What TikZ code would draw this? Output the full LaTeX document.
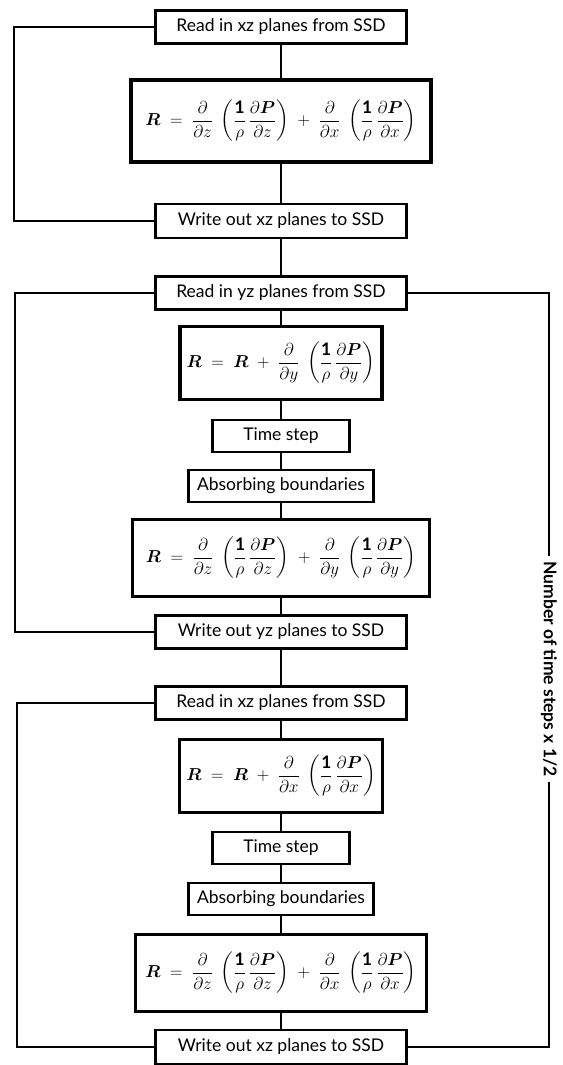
\documentclass[tikz,border=0pt]{standalone}
\usepackage{amsmath}
\usepackage{fontspec}
\setmainfont{Lato}
\usetikzlibrary{positioning}
\tikzset{
  box/.style={draw, line width=2.5pt, inner sep=0pt, align=center,
    font=\fontsize{17.5}{20}\selectfont},
  iobox/.style={box, minimum width=251pt, minimum height=33pt},
  stepbox/.style={box, minimum width=137pt, minimum height=32pt},
  absbox/.style={box, minimum width=185pt, minimum height=32pt},
  eqbox/.style={draw, line width=3.5pt, inner sep=0pt,
    font=\fontsize{17.28}{20}\selectfont},
  link/.style={line width=1.5pt},
}
\newcommand{\pd}[1]{\dfrac{\partial}{\partial #1}}
\newcommand{\brk}[1]{\left(\dfrac{\mathbf{1}}{\rho}\,\dfrac{\partial \boldsymbol{P}}{\partial #1}\right)}

\begin{document}
\begin{tikzpicture}[x=1pt, y=-1pt]
  \useasboundingbox (0,0) rectangle (562,1065);
  % xz pass
  \node[iobox] (readA) at (281,27) {Read in xz planes from SSD};
  \node[eqbox, minimum width=300pt, minimum height=82pt] (eqA) at (281,121)
    {$\boldsymbol{R} \;=\; \pd{z}\;\brk{z} \;+\; \pd{x}\;\brk{x}$};
  \node[iobox, minimum height=34pt] (writeA) at (281,221) {Write out xz planes to SSD};
  % yz pass
  \node[iobox] (readB) at (281,293) {Read in yz planes from SSD};
  \node[eqbox, minimum width=202pt, minimum height=73pt] (eqB) at (281,363)
    {$\boldsymbol{R} \;=\; \boldsymbol{R} \;+\; \pd{y}\;\brk{y}$};
  \node[stepbox] (timeB) at (281,436) {Time step};
  \node[absbox] (absB) at (281,486) {Absorbing boundaries};
  \node[eqbox, minimum width=297pt, minimum height=77pt] (eqC) at (281,558)
    {$\boldsymbol{R} \;=\; \pd{z}\;\brk{z} \;+\; \pd{y}\;\brk{y}$};
  \node[iobox] (writeB) at (281,632) {Write out yz planes to SSD};
  % xz pass again
  \node[iobox] (readC) at (281,703) {Read in xz planes from SSD};
  \node[eqbox, minimum width=203pt, minimum height=73pt] (eqD) at (281,776)
    {$\boldsymbol{R} \;=\; \boldsymbol{R} \;+\; \pd{x}\;\brk{x}$};
  \node[stepbox] (timeC) at (281,848) {Time step};
  \node[absbox] (absC) at (281,899) {Absorbing boundaries};
  \node[eqbox, minimum width=291pt, minimum height=77pt] (eqE) at (281,973)
    {$\boldsymbol{R} \;=\; \pd{z}\;\brk{z} \;+\; \pd{x}\;\brk{x}$};
  \node[iobox, minimum height=34pt] (writeC) at (281,1047) {Write out xz planes to SSD};

  \node[rotate=-90, inner sep=5pt, font=\bfseries\fontsize{17.5}{20}\selectfont]
    (steps) at (549,669) {Number of time steps x 1/2};

  \draw[link] (readA) -- (eqA) -- (writeA) -- (readB) -- (eqB) -- (timeB)
    -- (absB) -- (eqC) -- (writeB) -- (readC) -- (eqD) -- (timeC) -- (absC)
    -- (eqE) -- (writeC);

  \coordinate (loopA) at (14,120);
  \coordinate (loopB) at (15,460);
  \coordinate (loopC) at (17,870);
  \draw[link] (readA.west) -| (loopA) |- (writeA.west);
  \draw[link] (readB.west) -| (loopB) |- (writeB.west);
  \draw[link] (readC.west) -| (loopC) |- (writeC.west);
  \draw[link] (readB.east) -| (steps.west);
  \draw[link] (steps.east) |- (writeC.east);
\end{tikzpicture}
\end{document}
